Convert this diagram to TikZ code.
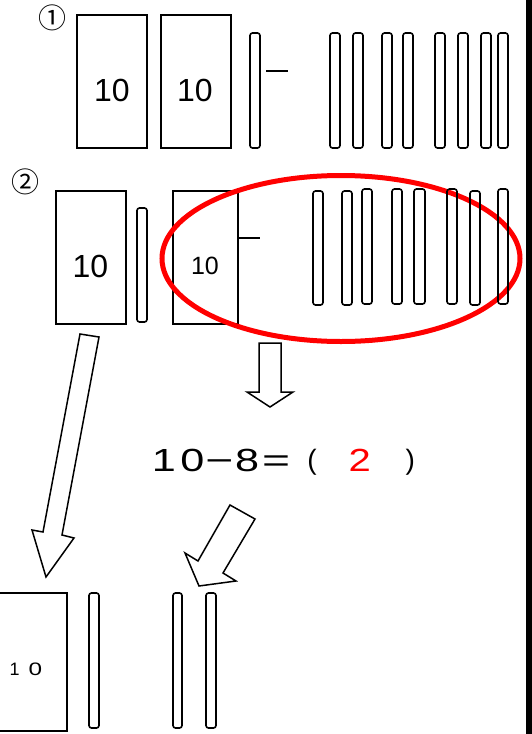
\documentclass[tikz,border=0pt]{standalone}
\usepackage{fontspec}
\usepackage{graphicx}
\setmainfont{Liberation Sans}
\newfontfamily\circfont{Noto Sans CJK JP}
\usetikzlibrary{shapes.geometric,fit}
\definecolor{pred}{RGB}{255,0,0}
\newcommand\sx[2]{\scalebox{#1}[1]{#2}}
\newcommand\rodat[5]{\node[rod, fit={(#2,#3) (#4,#5)}] (#1) {};}
\begin{document}
\begin{tikzpicture}[x=1pt,y=-1pt,
  box/.style={draw, line width=1.6pt, inner sep=0pt},
  rod/.style={draw, line width=1.6pt, rounded corners=2.5pt, inner sep=0pt},
  barrow/.style={draw, line width=1.5pt, line join=miter},
  big/.style={inner sep=0pt, font=\fontsize{32}{32}\selectfont},
  circ/.style={font=\circfont\fontsize{28}{28}\selectfont, inner sep=0pt}]
\useasboundingbox (0,0) rectangle (532,734);
\fill (526,0) rectangle (532,734);

% row 1
\node[circ] (c1) at (52,18) {①};
\node[box, fit={(77,15) (147,148)}] (A) {};
\node[big] (tA) at (112,90) {10};
\node[box, fit={(161,15) (231,148)}] (B) {};
\node[big] (tB) at (195,90) {10};
\rodat{r0}{250}{33}{260}{148}
\coordinate (m1a) at (266,71);
\coordinate (m1b) at (288,71);
\draw[line width=1.4pt] (m1a) -- (m1b);
\rodat{ra1}{330}{33}{340}{148}
\rodat{ra2}{353}{33}{363}{148}
\rodat{ra3}{382}{33}{392}{148}
\rodat{ra4}{403}{33}{413}{148}
\rodat{ra5}{435}{33}{445}{148}
\rodat{ra6}{458}{33}{468}{148}
\rodat{ra7}{481}{33}{491}{148}
\rodat{ra8}{498}{33}{508}{148}

% row 2
\node[circ] (c2) at (25,182) {②};
\node[box, fit={(56,191) (126,324)}] (C) {};
\node[big] (tC) at (90.5,266) {10};
\rodat{rc}{137}{208}{147}{322}
\node[box, fit={(173,191) (238,324)}] (D) {};
\node[inner sep=0pt, font=\fontsize{25}{25}\selectfont] (tD) at (205,266) {10};
\coordinate (m2b) at (260,238);
\draw[line width=1.4pt] (D.east |- m2b) -- (m2b);

% arrows
\draw[barrow] (80,334) -- (99,337) -- (62,535) -- (74,538) -- (46,577) -- (32,530) -- (43,532) -- cycle;
\draw[barrow] (259,343) -- (281,343) -- (281,392) -- (293,392) -- (270,407) -- (247,392) -- (259,392) -- cycle;
\draw[barrow] (230,505) -- (255,519) -- (223,573) -- (236,581) -- (199,586) -- (185,553) -- (198,561) -- cycle;

\node[ellipse, draw=pred, line width=5pt, minimum width=358pt, minimum height=166pt, inner sep=0pt] (ring) at (341,258.5) {};

\rodat{rb1}{313}{191}{323}{305}
\rodat{rb2}{342}{191}{352}{305}
\rodat{rb3}{362}{189}{372}{304}
\rodat{rb4}{392}{189}{402}{304}
\rodat{rb5}{414}{189}{425}{304}
\rodat{rb6}{447}{189}{457}{304}
\rodat{rb7}{470}{191}{480}{305}
\rodat{rb8}{498}{189}{508}{304}

% equation
\node[anchor=base west, inner sep=0pt, font=\fontsize{32}{32}\selectfont] (eq) at (148.75,471)
 {\makebox[30pt]{\sx{1.35}{1}}\makebox[27pt]{\sx{1.35}{0}}\makebox[26.75pt]{\sx{1.5}{−}}\makebox[29pt]{\sx{1.35}{8}}\makebox[28.75pt]{\sx{1.5}{=}}\makebox[43pt]{\raisebox{2pt}{\fontsize{28}{28}\selectfont (}}\makebox[52.5pt]{\textcolor{pred}{\sx{1.25}{2}}}\makebox[48.5pt]{\raisebox{2pt}{\fontsize{28}{28}\selectfont )}}};

% bottom row
\node[box, fit={(-5,593) (67,731)}] (E) {};
\node[inner sep=0pt, font=\fontsize{18}{18}\selectfont] (e10) at (26,669) {1\hspace{9pt}\sx{1.35}{0}};
\rodat{rd1}{89}{593}{99}{728}
\rodat{rd2}{173}{593}{182}{728}
\rodat{rd3}{206}{593}{216}{728}
\end{tikzpicture}
\end{document}
